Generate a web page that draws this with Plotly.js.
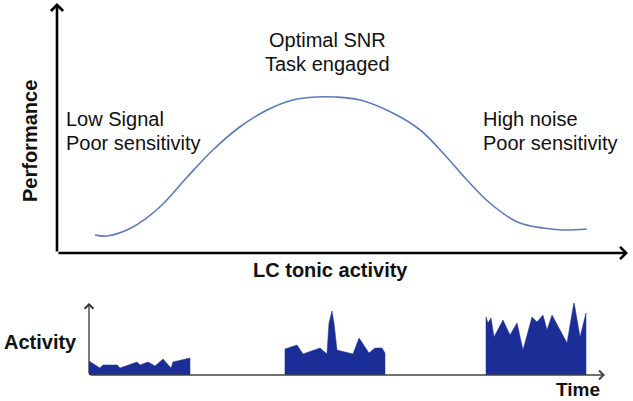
<!DOCTYPE html>
<html>
<head>
<meta charset="utf-8">
<script src="https://cdn.plot.ly/plotly-3.0.1.min.js"></script>
<style>html,body{margin:0;padding:0;background:#fff;}#chart{width:633px;height:401px;}</style>
</head>
<body>
<div id="chart"></div>
<script>
// ---- Data ----
// Top panel: performance vs LC tonic activity (arbitrary units 0-100)
const curveX = [6.65, 8.76, 13.3, 18.0, 22.8, 27.3, 32.0, 36.8, 41.3, 45.5, 48.7, 53.1, 58.8, 63.6, 67.6, 71.8, 75.8, 80.6, 85.1, 88.6, 92.8];
const curveY = [7.2, 6.8, 10.4, 18.4, 30.4, 41.2, 50.4, 57.2, 61.2, 62.4, 62.4, 61.2, 56.0, 49.2, 40.0, 29.2, 20.0, 12.4, 10.0, 9.2, 9.6];

// Bottom panel: LC activity over time (three bursts)
const lowX = [0, 0, 2.13, 2.71, 5.43, 6.01, 9.30, 9.88, 11.43, 12.79, 14.34, 15.89, 16.28, 19.19, 19.57, 19.57];
const lowY = [0, 19.4, 9.7, 13.9, 13.9, 9.7, 18.1, 13.9, 18.1, 12.5, 22.2, 9.7, 18.1, 23.6, 23.6, 0];

const midX = [37.98, 37.98, 40.31, 41.47, 44.77, 46.12, 46.51, 47.09, 47.48, 48.06, 51.16, 52.33, 54.26, 55.43, 56.78, 57.36, 57.36];
const midY = [0, 36.1, 41.7, 29.2, 37.5, 29.2, 72.2, 88.9, 72.2, 34.7, 29.2, 51.4, 30.6, 37.5, 37.5, 30.6, 0];

const highX = [76.94, 76.94, 77.33, 77.91, 78.49, 80.23, 81.59, 82.95, 84.11, 85.85, 86.82, 87.98, 88.76, 89.73, 92.64, 93.99, 95.16, 96.32, 96.32];
const highY = [0, 80.6, 72.2, 79.2, 52.8, 76.4, 55.6, 72.2, 34.7, 80.6, 73.6, 83.3, 62.5, 83.3, 44.4, 101.4, 52.8, 86.1, 0];

// Text labels
const topLabels = {
  optimal: ["Optimal SNR", "Task engaged"],
  low: ["Low Signal", "Poor sensitivity"],
  high: ["High noise", "Poor sensitivity"]
};
const xTitleTop = "LC tonic activity";
const yTitleTop = "Performance";
const xTitleBottom = "Time";
const yTitleBottom = "Activity";

// ---- Layout helpers (pixel -> paper) ----
const W = 633, H = 401;
const px = v => v / W;
const py = v => 1 - v / H;

const FONT = "Liberation Sans, Arial, sans-serif";
const FILL = "#1b2d96";

const traces = [
  {x: curveX, y: curveY, xaxis: "x", yaxis: "y", mode: "lines",
   line: {color: "#5a7bb9", width: 1.6, shape: "spline", smoothing: 1}, hoverinfo: "skip"},
  {x: lowX, y: lowY, xaxis: "x2", yaxis: "y2", mode: "lines", fill: "toself",
   fillcolor: FILL, line: {color: FILL, width: 0.5}, hoverinfo: "skip"},
  {x: midX, y: midY, xaxis: "x2", yaxis: "y2", mode: "lines", fill: "toself",
   fillcolor: FILL, line: {color: FILL, width: 0.5}, hoverinfo: "skip"},
  {x: highX, y: highY, xaxis: "x2", yaxis: "y2", mode: "lines", fill: "toself",
   fillcolor: FILL, line: {color: FILL, width: 0.5}, hoverinfo: "skip"}
];

const hidden = {showgrid: false, zeroline: false, showticklabels: false, ticks: "", showline: false, fixedrange: true};

function txt(text, x, y, opts) {
  return Object.assign({
    text: text, xref: "paper", yref: "paper", x: px(x), y: py(y),
    showarrow: false, xanchor: "left", yanchor: "middle", borderpad: 0,
    font: {family: FONT, size: 20, color: "#111"}
  }, opts || {});
}
function bold(s) { return "<b>" + s + "</b>"; }

const annotations = [
  // top axes arrows
  {xref: "x", yref: "y", axref: "x", ayref: "y", x: 0, y: 100, ax: 0, ay: 0,
   showarrow: true, arrowhead: 4, arrowsize: 0.9, arrowwidth: 2.6, arrowcolor: "#000", text: ""},
  {xref: "x", yref: "y", axref: "x", ayref: "y", x: 100, y: 0, ax: 0, ay: 0,
   showarrow: true, arrowhead: 4, arrowsize: 0.9, arrowwidth: 2.6, arrowcolor: "#000", text: ""},
  // bottom axes arrows
  {xref: "x2", yref: "y2", axref: "x2", ayref: "y2", x: 0, y: 100, ax: 0, ay: 0,
   showarrow: true, arrowhead: 4, arrowsize: 1.3, arrowwidth: 1.3, arrowcolor: "#333", text: ""},
  {xref: "x2", yref: "y2", axref: "x2", ayref: "y2", x: 100, y: 0, ax: 0, ay: 0,
   showarrow: true, arrowhead: 4, arrowsize: 1.1, arrowwidth: 1.6, arrowcolor: "#444", text: ""},
  // region labels
  txt(topLabels.optimal[0], 328, 40, {xanchor: "center"}),
  txt(topLabels.optimal[1], 328, 64, {xanchor: "center"}),
  txt(topLabels.low[0], 65, 119),
  txt(topLabels.low[1], 65, 143),
  txt(topLabels.high[0], 482, 119),
  txt(topLabels.high[1], 482, 143),
  // axis titles
  txt(bold(xTitleTop), 330, 270, {xanchor: "center"}),
  txt(bold(yTitleTop), 30, 141, {xanchor: "center", textangle: -90}),
  txt(bold(yTitleBottom), 3, 342),
  txt(bold(xTitleBottom), 578, 389, {xanchor: "center", font: {family: FONT, size: 19, color: "#111"}})
];

const layout = {
  width: W, height: H,
  margin: {l: 0, r: 0, t: 0, b: 0, pad: 0},
  paper_bgcolor: "#fff", plot_bgcolor: "rgba(0,0,0,0)",
  showlegend: false,
  xaxis: Object.assign({domain: [px(57), px(628)], range: [0, 100], anchor: "y"}, hidden),
  yaxis: Object.assign({domain: [py(253), py(3)], range: [0, 100], anchor: "x"}, hidden),
  xaxis2: Object.assign({domain: [px(89), px(605)], range: [0, 100], anchor: "y2"}, hidden),
  yaxis2: Object.assign({domain: [py(375), py(303)], range: [0, 100], anchor: "x2"}, hidden),
  annotations: annotations
};

Plotly.newPlot("chart", traces, layout, {staticPlot: true, displayModeBar: false});
</script>
</body>
</html>
